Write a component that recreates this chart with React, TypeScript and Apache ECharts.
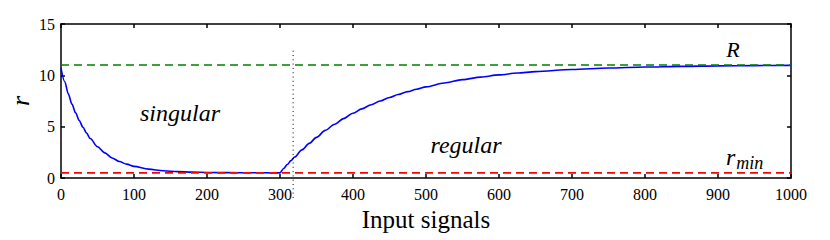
import React, { useEffect, useRef } from "react";
import * as echarts from "echarts";

// x positions (input signals) and r values
const xs = [0, 5, 10, 15, 20, 25, 30, 35, 40, 50, 60, 70, 80, 90, 100, 120, 140, 160, 180, 200, 250, 300,
  305, 310, 315, 320, 330, 340, 350, 362, 375, 387, 400, 412, 425, 437, 450, 462, 475, 487, 500, 525, 550, 575, 600, 625, 650, 700, 750, 800, 850, 900, 950, 1000];
const rValues = [10.7, 9.4, 8.2, 7.2, 6.35, 5.6, 4.95, 4.37, 3.85, 3.05, 2.45, 1.95, 1.6, 1.35, 1.13, 0.86, 0.71, 0.62, 0.57, 0.54, 0.51, 0.5,
  0.92, 1.31, 1.69, 2.05, 2.74, 3.37, 3.96, 4.64, 5.24, 5.78, 6.3, 6.73, 7.14, 7.5, 7.84, 8.13, 8.41, 8.65, 8.88, 9.25, 9.58, 9.83, 10.04, 10.22, 10.36, 10.57, 10.71, 10.81, 10.87, 10.92, 10.95, 10.97];
const R_LEVEL = 11;
const R_MIN_LEVEL = 0.5;
const SWITCH_X = 318;
const SWITCH_SPAN = [12.4, -2.1];
const xTicks = { min: 0, max: 1000, interval: 100 };
const yTicks = { min: 0, max: 15, interval: 5 };

export default function App() {
  const ref = useRef<HTMLDivElement>(null);
  useEffect(() => {
    const chart = echarts.init(ref.current!, null, { renderer: "svg" });
    const font = "Liberation Serif";
    const axisCommon = {
      axisLine: { show: true, onZero: false, lineStyle: { color: "#000", width: 1.5 } },
      axisTick: { show: true, inside: true, length: 4, lineStyle: { color: "#000", width: 1.5 } },
      splitLine: { show: false },
    };
    chart.setOption({
      animation: false,
      grid: { left: 53, right: 47, top: 16, bottom: 70, outerBoundsMode: "none", containLabel: false },
      xAxis: [
        {
          type: "value", ...xTicks, position: "bottom", ...axisCommon,
          axisLabel: { color: "#000", fontFamily: font, fontSize: 16, margin: 8, formatter: (v: number) => String(v) },
          name: "Input signals", nameLocation: "middle", nameGap: 29, nameMoveOverlap: false,
          nameTextStyle: { color: "#000", fontFamily: font, fontSize: 25 },
        },
        { type: "value", ...xTicks, position: "top", ...axisCommon, axisLabel: { show: false } },
      ],
      yAxis: [
        {
          type: "value", ...yTicks, position: "left", ...axisCommon,
          axisLabel: { color: "#000", fontFamily: font, fontSize: 16, margin: 6 },
          name: "r", nameLocation: "middle", nameGap: 28, nameMoveOverlap: false,
          nameTextStyle: { color: "#000", fontFamily: font, fontSize: 26, fontStyle: "italic" },
        },
        { type: "value", ...yTicks, position: "right", ...axisCommon, axisLabel: { show: false } },
      ],
      series: [
        {
          type: "line", data: xs.map((x, i) => [x, rValues[i]]), showSymbol: false,
          smooth: 0.3, smoothMonotone: "x",
          lineStyle: { color: "#0000ff", width: 1.6 },
        },
        {
          type: "line", data: [[xTicks.min, R_LEVEL], [xTicks.max, R_LEVEL]], showSymbol: false,
          lineStyle: { color: "#008000", width: 1.6, type: [8, 5] },
        },
        {
          type: "line", data: [[xTicks.min, R_MIN_LEVEL], [xTicks.max, R_MIN_LEVEL]], showSymbol: false,
          lineStyle: { color: "#ff0000", width: 1.6, type: [8, 5] },
        },
        {
          type: "line", data: [[SWITCH_X, SWITCH_SPAN[0]], [SWITCH_X, SWITCH_SPAN[1]]], showSymbol: false,
          clip: false,
          lineStyle: { color: "#000", width: 1, type: [1, 3.3] },
        },
      ],
      graphic: [
        { type: "text", x: 172, y: 105, style: { text: "singular", fontFamily: font, fontStyle: "italic", fontSize: 24, fill: "#000", align: "center", verticalAlign: "middle" } },
        { type: "text", x: 458, y: 137, style: { text: "regular", fontFamily: font, fontStyle: "italic", fontSize: 24, fill: "#000", align: "center", verticalAlign: "middle" } },
        { type: "text", x: 725, y: 41, style: { text: "R", fontFamily: font, fontStyle: "italic", fontSize: 22, fill: "#000", align: "center", verticalAlign: "middle" } },
        {
          type: "text", x: 718, y: 134,
          style: {
            text: "{r|r}{s|min}", fill: "#000",
            rich: {
              r: { fontFamily: font, fontStyle: "italic", fontSize: 24, fill: "#000" },
              s: { fontFamily: font, fontStyle: "italic", fontSize: 18, fill: "#000", padding: [12, 0, 0, 1] },
            },
          },
        },
      ],
    });
    return () => chart.dispose();
  }, []);
  return <div ref={ref} style={{ width: 830, height: 240 }} />;
}
